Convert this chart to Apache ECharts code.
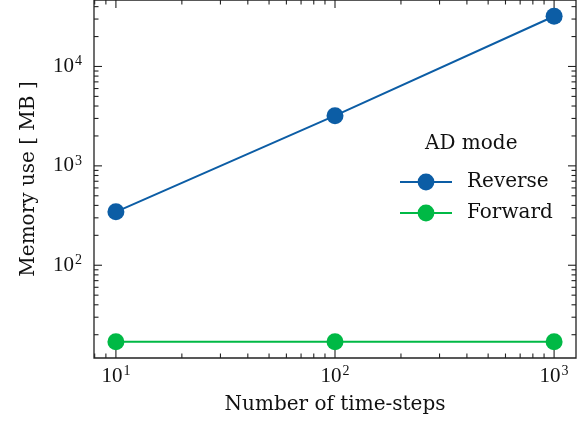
<!DOCTYPE html>
<html><head><meta charset="utf-8">
<script src="https://cdn.jsdelivr.net/npm/echarts@6/dist/echarts.min.js"></script>
<style>html,body{margin:0;padding:0;background:#fff}#c{width:587px;height:425px}</style>
</head><body><div id="c"></div>
<script>
const timeSteps = [10, 100, 1000];
const reverseMB = [345, 3200, 32000];
const forwardMB = [17, 17, 17];
const seriesNames = ['Reverse', 'Forward'];
const legendTitle = 'AD mode';
const xTitle = 'Number of time-steps';
const yTitle = 'Memory use [ MB ]';

const FONT = 'Liberation Serif';
const TFONT = 'DejaVu Serif';
const xMin = Math.pow(10, 0.9), xMax = Math.pow(10, 3.1);
const yMin = 11.66, yMax = 46650;

function supLabel(v) {
  const l = Math.log10(v);
  if (Math.abs(l - Math.round(l)) > 1e-6) return '';
  return '{b|10}{s|' + Math.round(l) + '}';
}
const rich = {
  b: {fontFamily: FONT, fontSize: 21, color: '#111'},
  s: {fontFamily: FONT, fontSize: 14, color: '#111', verticalAlign: 'bottom', padding: [0, 0, 10, 1]}
};

// tick positions (axis decoration)
const tickData = [];
for (let e = 0; e <= 4; e++) {
  for (let m = 1; m <= 9; m++) {
    const v = m * Math.pow(10, e);
    if (v >= xMin && v <= xMax) tickData.push([v, 100, 0, m === 1 ? 1 : 0]);
  }
}
for (let e = 1; e <= 4; e++) {
  for (let m = 1; m <= 9; m++) {
    const v = m * Math.pow(10, e);
    if (v >= yMin && v <= yMax) tickData.push([100, v, 1, m === 1 ? 1 : 0]);
  }
}

const chart = echarts.init(document.getElementById('c'));
chart.setOption({
  animation: false,
  grid: {left: 94, right: 11, top: 0, bottom: 67, show: true, borderColor: '#222', borderWidth: 1.3},
  xAxis: {
    type: 'log', min: xMin, max: xMax, logBase: 10,
    name: xTitle, nameLocation: 'middle', nameGap: 37,
    nameTextStyle: {fontFamily: TFONT, fontSize: 20, color: '#111'},
    axisLine: {show: false}, axisTick: {show: false}, splitLine: {show: false},
    axisLabel: {formatter: supLabel, rich: rich, margin: 6, showMinLabel: false, showMaxLabel: false}
  },
  yAxis: {
    type: 'log', min: yMin, max: yMax, logBase: 10,
    name: yTitle, nameLocation: 'middle', nameGap: 55,
    nameTextStyle: {fontFamily: TFONT, fontSize: 20, color: '#111'},
    axisLine: {show: false}, axisTick: {show: false}, splitLine: {show: false},
    axisLabel: {formatter: supLabel, rich: rich, margin: 12, showMinLabel: false, showMaxLabel: false}
  },
  legend: {
    data: seriesNames, orient: 'vertical', left: 394, top: 167,
    itemWidth: 52, itemHeight: 21, itemGap: 11,
    textStyle: {fontFamily: TFONT, fontSize: 20, color: '#111', padding: [0, 0, 0, 10]}
  },
  graphic: [{
    type: 'text', left: 425, top: 134,
    style: {text: legendTitle, fontFamily: TFONT, fontSize: 20, fill: '#111'}
  }],
  series: [
    {name: seriesNames[0], type: 'line', data: timeSteps.map((t, i) => [t, reverseMB[i]]),
     color: '#0C5DA5', symbol: 'circle', symbolSize: 17, lineStyle: {width: 2}, z: 3},
    {name: seriesNames[1], type: 'line', data: timeSteps.map((t, i) => [t, forwardMB[i]]),
     color: '#00B945', symbol: 'circle', symbolSize: 17, lineStyle: {width: 2}, z: 3},
    {type: 'custom', data: tickData, silent: true, z: 2,
     renderItem: function (params, api) {
       const cs = params.coordSys;
       const isY = api.value(2) === 1;
       const len = api.value(3) === 1 ? 8 : 4.5;
       const st = {stroke: '#222', lineWidth: 1.1};
       if (!isY) {
         const x = api.coord([api.value(0), 100])[0];
         return {type: 'group', children: [
           {type: 'line', shape: {x1: x, y1: cs.y + cs.height, x2: x, y2: cs.y + cs.height - len}, style: st},
           {type: 'line', shape: {x1: x, y1: cs.y, x2: x, y2: cs.y + len}, style: st}
         ]};
       } else {
         const y = api.coord([100, api.value(1)])[1];
         return {type: 'group', children: [
           {type: 'line', shape: {x1: cs.x, y1: y, x2: cs.x + len, y2: y}, style: st},
           {type: 'line', shape: {x1: cs.x + cs.width, y1: y, x2: cs.x + cs.width - len, y2: y}, style: st}
         ]};
       }
     }}
  ]
});
</script>
</body></html>
